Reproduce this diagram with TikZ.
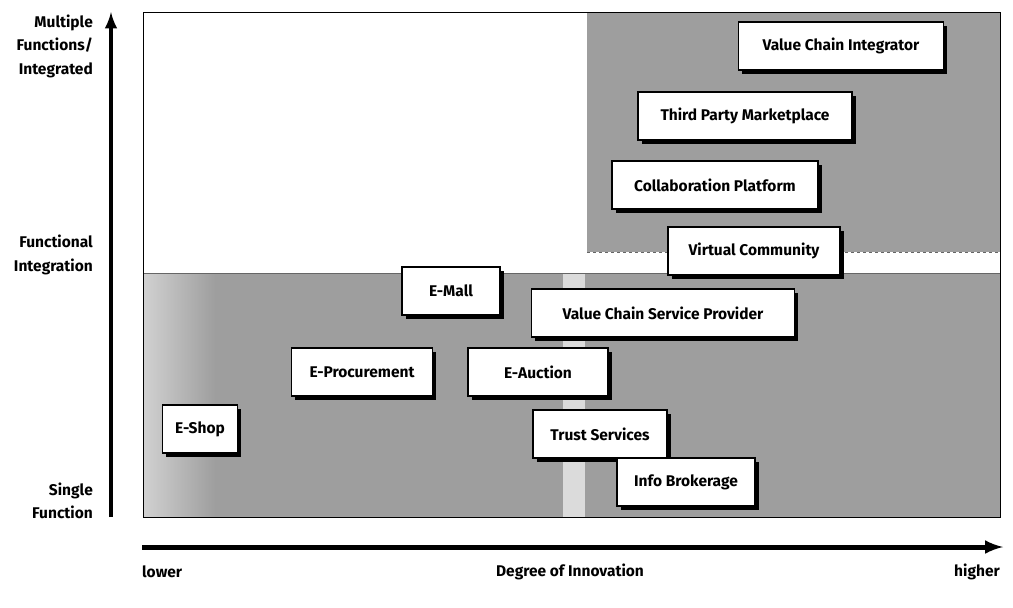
\documentclass[tikz,border=0pt]{standalone}
\usepackage{fontspec}
\setsansfont{Fira Sans}
\usetikzlibrary{shadows}

\begin{document}
\begin{tikzpicture}[x=1pt,y=-1pt,
  modelbox/.style={draw,line width=1.8pt,fill=white,minimum height=48pt,font=\sffamily\bfseries\fontsize{15.5}{18}\selectfont,drop shadow={shadow xshift=3.5pt,shadow yshift=-3.5pt,fill=black,opacity=1}},
  axislabel/.style={font=\sffamily\bfseries\fontsize{15.5}{23.5}\selectfont,align=right,inner sep=0pt},
  band/.style={fill=black!38,draw=none}]
\useasboundingbox (0,0) rectangle (1013,608);

% shaded areas of the matrix
\fill[band] (143,273) rectangle (1000,517); \fill[band] (587,12) rectangle (1000,252);
\fill[left color=black!18,right color=black!38] (143,273) rectangle (215,517);
\fill[black!14] (563,273) rectangle (585,517);
\draw[black!60,dashed] (587,252) -- (1000,252); \draw[black!60] (143,273) -- (1000,273);
\node (frame) at (571.5,264.5) [draw,line width=1pt,minimum width=857pt,minimum height=505pt,inner sep=0pt] {};

% axes
\coordinate (y0) at (111,517); \coordinate (y1) at (111,12); \draw[-latex,line width=4.5pt] (y0) -- (y1);
\coordinate (x0) at (142,547); \coordinate (x1) at (1003,547); \draw[-latex,line width=5pt] (x0) -- (x1);

\node (multi) at (93,46) [axislabel,anchor=east] {Multiple\\Functions/\\Integrated};
\node (funcint) at (93,255) [axislabel,anchor=east] {Functional\\Integration};
\node (single) at (93,501) [axislabel,anchor=east] {Single\\Function};
\node (lower) at (142,572) [axislabel,anchor=west] {lower};
\node (degree) at (570,572) [axislabel] {Degree of Innovation};
\node (higher) at (1000,572) [axislabel,anchor=east] {higher};

% business models
\node (vci) at (841,46) [modelbox,minimum width=205pt] {Value Chain Integrator}; \node (tpm) at (745,116) [modelbox,minimum width=214pt] {Third Party Marketplace};
\node (cp) at (715,185) [modelbox,minimum width=206pt] {Collaboration Platform}; \node (vc) at (754,251) [modelbox,minimum width=172pt] {Virtual Community};
\node (emall) at (451,291) [modelbox,minimum width=98pt] {E-Mall}; \node (vcsp) at (663,313) [modelbox,minimum width=263pt] {Value Chain Service Provider};
\node (eproc) at (362,372) [modelbox,minimum width=141pt] {E-Procurement}; \node (eauct) at (538,372) [modelbox,minimum width=140pt] {E-Auction};
\node (trust) at (600,434) [modelbox,minimum width=134pt] {Trust Services}; \node (info) at (686,482) [modelbox,minimum width=138pt] {Info Brokerage};
\node (eshop) at (200,429) [modelbox,minimum width=75pt] {E-Shop};

\end{tikzpicture}
\end{document}
